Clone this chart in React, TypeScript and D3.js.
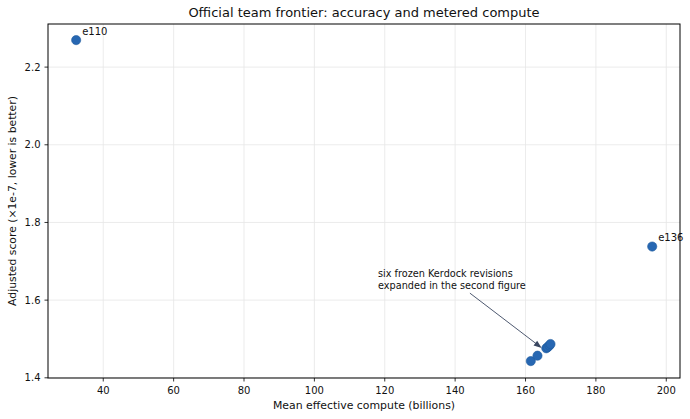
import * as React from 'react';
import * as d3 from 'd3';

// named points (label, compute in billions, adjusted score x1e-7)
const labelNames = ['e110', 'e136'];
const labelCompute = [32.3, 196.0];
const labelScore = [2.2695, 1.738];

// the six frozen Kerdock revisions (unlabelled cluster)
const clusterCompute = [161.5, 163.4, 165.9, 166.3, 166.8, 167.1];
const clusterScore = [1.443, 1.457, 1.476, 1.479, 1.483, 1.487];

const xTicks = [40, 60, 80, 100, 120, 140, 160, 180, 200];
const yTicks = [1.4, 1.6, 1.8, 2.0, 2.2];

const noteLines = ['six frozen Kerdock revisions', 'expanded in the second figure'];
const noteText: [number, number] = [118.1, 1.659];
const noteTail: [number, number] = [144.2, 1.618];
const noteHead: [number, number] = [164.6, 1.477];

const W = 690, H = 419;
const left = 48, right = 680, top = 24, bottom = 378;
const font = 'DejaVu Sans, sans-serif';
const dotColor = '#2767b2';

const App: React.FC = () => {
    const x = d3.scaleLinear().domain([24.3, 203.9]).range([left, right]);
    const y = d3.scaleLinear().domain([1.3995, 2.311]).range([bottom, top]);

    const pts = [
        ...labelCompute.map((c, i) => ({ c, s: labelScore[i] })),
        ...clusterCompute.map((c, i) => ({ c, s: clusterScore[i] })),
    ];

    const [hx, hy] = [x(noteHead[0]), y(noteHead[1])];
    const [tx, ty] = [x(noteTail[0]), y(noteTail[1])];
    const ang = Math.atan2(hy - ty, hx - tx);
    const ah = 8, aw = 3;
    const arrowHead = [
        [hx, hy],
        [hx - ah * Math.cos(ang) + aw * Math.sin(ang), hy - ah * Math.sin(ang) - aw * Math.cos(ang)],
        [hx - ah * Math.cos(ang) - aw * Math.sin(ang), hy - ah * Math.sin(ang) + aw * Math.cos(ang)],
    ].map(p => p.join(',')).join(' ');

    return (
        <svg width={W} height={H} style={{ position: 'absolute', left: 0, top: 0, background: '#fff' }}
            fontFamily={font}>
            <rect x={0} y={0} width={W} height={H} fill='#fff' />

            {/* grid */}
            {xTicks.map(t => (
                <line key={'gx' + t} x1={x(t)} x2={x(t)} y1={top} y2={bottom} stroke='#e6e6e6' strokeWidth={0.8} />
            ))}
            {yTicks.map(t => (
                <line key={'gy' + t} x1={left} x2={right} y1={y(t)} y2={y(t)} stroke='#e6e6e6' strokeWidth={0.8} />
            ))}

            {/* points */}
            {pts.map((p, i) => (
                <circle key={i} cx={x(p.c)} cy={y(p.s)} r={4.6} fill={dotColor} stroke='#1f5a9e' strokeWidth={0.6} />
            ))}
            {labelNames.map((n, i) => (
                <text key={n} x={x(labelCompute[i]) + 6} y={y(labelScore[i]) - 5.5} fontSize={10} fill='#111'>{n}</text>
            ))}

            {/* annotation */}
            {noteLines.map((l, i) => (
                <text key={i} x={x(noteText[0])} y={y(noteText[1]) + i * 12} fontSize={9.7} fill='#111'>{l}</text>
            ))}
            <line x1={tx} y1={ty} x2={hx - 6 * Math.cos(ang)} y2={hy - 6 * Math.sin(ang)} stroke='#3a4660' strokeWidth={0.9} />
            <polygon points={arrowHead} fill='#3a4660' />

            {/* spines */}
            <rect x={left} y={top} width={right - left} height={bottom - top} fill='none' stroke='#000' strokeWidth={1} />

            {/* x ticks */}
            {xTicks.map(t => (
                <g key={'xt' + t}>
                    <line x1={x(t)} x2={x(t)} y1={bottom} y2={bottom + 3.5} stroke='#000' strokeWidth={0.8} />
                    <text x={x(t)} y={bottom + 16} fontSize={10} textAnchor='middle' fill='#111'>{t}</text>
                </g>
            ))}
            {yTicks.map(t => (
                <g key={'yt' + t}>
                    <line x1={left - 3.5} x2={left} y1={y(t)} y2={y(t)} stroke='#000' strokeWidth={0.8} />
                    <text x={left - 7.5} y={y(t) + 3.6} fontSize={10} textAnchor='end' fill='#111'>{d3.format('.1f')(t)}</text>
                </g>
            ))}

            {/* labels */}
            <text x={(left + right) / 2} y={17} fontSize={13} textAnchor='middle' fill='#111'>
                Official team frontier: accuracy and metered compute
            </text>
            <text x={(left + right) / 2} y={408.5} fontSize={10.9} textAnchor='middle' fill='#111'>
                Mean effective compute (billions)
            </text>
            <text transform={`translate(16,${(top + bottom) / 2}) rotate(-90)`} fontSize={10.8} textAnchor='middle' fill='#111'>
                Adjusted score (×1e-7, lower is better)
            </text>
        </svg>
    );
};

export default App;
